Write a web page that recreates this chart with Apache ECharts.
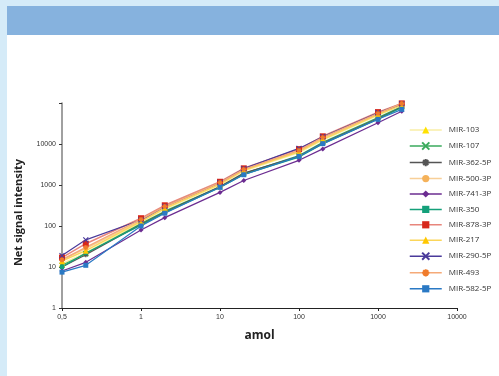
<!DOCTYPE html>
<html>
<head>
<meta charset="utf-8">
<script src="https://cdn.jsdelivr.net/npm/echarts@6/dist/echarts.min.js"></script>
<style>
html,body{margin:0;padding:0;width:499px;height:376px;overflow:hidden;background:#d5ebf8;}
#panel{position:absolute;left:7px;top:35px;width:492px;height:341px;background:#ffffff;}
#header{position:absolute;left:7px;top:6px;width:492px;height:29px;background:#86b2de;}
#chart{position:absolute;left:0;top:0;width:499px;height:376px;}
</style>
</head>
<body>
<div id="header"></div>
<div id="panel"></div>
<div id="chart"></div>
<script>
// amol positions of the dilution points
const amol = [0.1, 0.2, 1, 2, 10, 20, 100, 200, 1000, 2000];
const xTickLabels = ['0,5', '1', '10', '100', '1000', '10000'];
const yTickLabels = ['1', '10', '100', '1000', '10000', ''];

const seriesNames = ['MIR-103','MIR-107','MIR-362-5P','MIR-500-3P','MIR-741-3P','MIR-350','MIR-878-3P','MIR-217','MIR-290-5P','MIR-493','MIR-582-5P'];

const mir103   = [12, 22, 125, 260, 1000, 2200, 6200, 12500, 50000, 88000];
const mir107   = [11, 21, 115, 230, 900, 1900, 5200, 11000, 44000, 82000];
const mir362   = [10, 20, 110, 220, 920, 1950, 5000, 10500, 42000, 80000];
const mir500   = [15, 28, 135, 280, 1100, 2350, 6800, 13500, 54000, 92000];
const mir741   = [8, 13, 80, 160, 660, 1290, 4000, 7600, 33000, 63000];
const mir350   = [10, 22, 105, 210, 870, 1800, 4800, 10000, 40000, 78000];
const mir878   = [17, 37, 155, 320, 1200, 2550, 7500, 15400, 60000, 98000];
const mir217   = [14, 25, 130, 270, 1050, 2300, 6500, 13000, 52000, 90000];
const mir290   = [19, 46, 140, 300, 1150, 2500, 7800, 15000, 58000, 95000];
const mir493   = [15, 30, 145, 300, 1150, 2400, 7000, 14500, 56000, 97000];
const mir582   = [7.5, 11, 100, 205, 880, 1780, 5000, 10200, 40000, 70000];

const values = [mir103, mir107, mir362, mir500, mir741, mir350, mir878, mir217, mir290, mir493, mir582];

const X = 'path://M0,0L10,10M10,0L0,10';
const AST = 'path://M5,0L5,10M0,5L10,5M1.5,1.5L8.5,8.5M8.5,1.5L1.5,8.5';
const styles = [
  {line:'#f9eea6', mark:'#ffe100', sym:'triangle', size:6, lw:1.5},
  {line:'#3aaa5c', mark:'#3aaa5c', sym:X, size:5, stroke:true, lw:1.2},
  {line:'#555555', mark:'#555555', sym:AST, size:5, stroke:true, lw:1.2},
  {line:'#f8cf98', mark:'#f5b25a', sym:'circle', size:5, lw:1.5},
  {line:'#6b2c91', mark:'#6b2c91', sym:'diamond', size:5, lw:1.2},
  {line:'#14a07a', mark:'#14a07a', sym:'rect', size:4, lw:1.2},
  {line:'#e8867c', mark:'#d7281c', sym:'rect', size:6, lw:1.5},
  {line:'#fbd65a', mark:'#ffc700', sym:'triangle', size:6, lw:1.5},
  {line:'#4a3a9b', mark:'#4a3a9b', sym:X, size:5, stroke:true, lw:1.2},
  {line:'#f5aa78', mark:'#f07c2c', sym:AST, size:5, stroke:true, lw:1.5},
  {line:'#2a79c4', mark:'#2a79c4', sym:'rect', size:5, lw:1.2}
];

const series = seriesNames.map((name, i) => {
  const s = styles[i];
  return {
    name: name,
    type: 'line',
    data: amol.map((x, j) => [x, values[i][j]]),
    symbol: s.sym,
    symbolSize: s.size,
    showAllSymbol: true,
    clip: false,
    lineStyle: {color: s.line, width: s.lw},
    itemStyle: s.stroke ? {color: s.mark, borderColor: s.mark, borderWidth: 1.2} : {color: s.mark, borderWidth: 0},
    emphasis: {disabled: true},
    animation: false
  };
});

const chart = echarts.init(document.getElementById('chart'), null, {renderer: 'canvas'});
chart.setOption({
  backgroundColor: 'transparent',
  animation: false,
  textStyle: {fontFamily: 'Liberation Sans'},
  grid: {left: 62, right: 42, top: 103, bottom: 68, containLabel: false},
  legend: {
    orient: 'vertical',
    left: 404,
    top: 121,
    itemWidth: 32,
    itemHeight: 9,
    itemGap: 7.4,
    lineStyle: {width: 1.5},
    data: seriesNames,
    textStyle: {fontFamily: 'Open Sans', fontSize: 8, color: '#333333', padding: [0, 0, 0, 2]},
    selectedMode: false
  },
  xAxis: {
    type: 'log',
    logBase: 10,
    min: 0.1,
    max: 10000,
    name: 'amol',
    nameLocation: 'middle',
    nameGap: 22,
    nameTextStyle: {fontFamily: 'Open Sans', fontWeight: 'bold', fontSize: 12, color: '#222222'},
    axisLine: {lineStyle: {color: '#222222', width: 1.2}},
    axisTick: {show: true, length: 3, lineStyle: {color: '#222222'}},
    axisLabel: {fontSize: 7, color: '#333333', margin: 6, formatter: (v, i) => xTickLabels[i]},
    splitLine: {show: false},
    minorTick: {show: false}
  },
  yAxis: {
    type: 'log',
    logBase: 10,
    min: 1,
    max: 100000,
    name: 'Net signal intensity',
    nameLocation: 'middle',
    nameGap: 38,
    nameRotate: 90,
    nameTextStyle: {fontFamily: 'Open Sans', fontWeight: 'bold', fontSize: 11, color: '#222222', padding: [0, 0, 0, -14]},
    axisLine: {show: true, lineStyle: {color: '#808080', width: 1.5}},
    axisTick: {show: true, length: 3, lineStyle: {color: '#333333'}},
    axisLabel: {fontSize: 7, color: '#333333', margin: 6, formatter: (v, i) => yTickLabels[i]},
    splitLine: {show: false}
  },
  series: series
});
</script>
</body>
</html>
